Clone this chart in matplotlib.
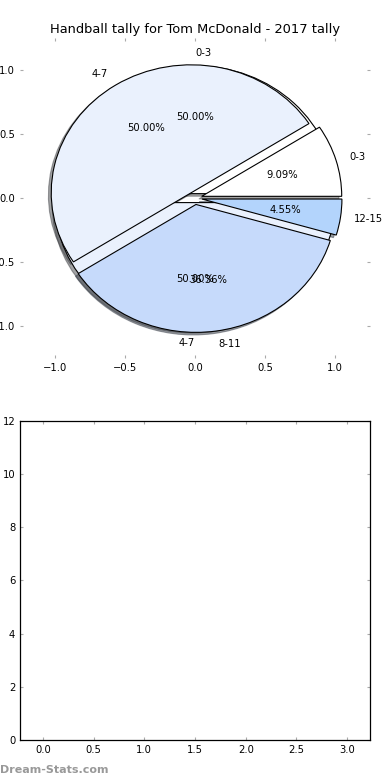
import matplotlib
matplotlib.use('Agg')
import matplotlib.pyplot as plt

# tally data
bins_2016 = ['0-3', '4-7']
tally_2016 = [1, 1]
colors_2016 = ['#ffffff', '#eaf1fd']

bins_2017 = ['0-3', '4-7', '8-11', '12-15']
tally_2017 = [2, 11, 8, 1]
colors_2017 = ['#ffffff', '#eaf1fd', '#c6dafb', '#b3d4fc']

bar_pos = [0, 1, 2, 3]
bar_heights = [0, 0, 0, 0]
bar_width = 0.45

ticks_pie = [-1.0, -0.5, 0.0, 0.5, 1.0]
ticks_bar_y = [0, 2, 4, 6, 8, 10, 12]
ticks_bar_x = [0.0, 0.5, 1.0, 1.5, 2.0, 2.5, 3.0]

DPI = 100
plt.rcParams['font.size'] = 7.2
plt.rcParams['xtick.direction'] = 'in'
plt.rcParams['ytick.direction'] = 'in'
plt.rcParams['xtick.top'] = True
plt.rcParams['ytick.right'] = True
plt.rcParams['xtick.color'] = '#aaaaaa'
plt.rcParams['ytick.color'] = '#aaaaaa'
plt.rcParams['xtick.labelcolor'] = 'black'
plt.rcParams['ytick.labelcolor'] = 'black'
plt.rcParams['xtick.major.size'] = 2.2
plt.rcParams['ytick.major.size'] = 2.2
plt.rcParams['xtick.major.pad'] = 3.5
plt.rcParams['ytick.major.pad'] = 3.5

fig = plt.figure(figsize=(3.9, 7.8), dpi=DPI)
ax = fig.add_axes([0.0513, 0.541, 0.8974, 0.410])
ax2 = fig.add_axes([0.0513, 0.0513, 0.8974, 0.409])

shadow = {'ox': -0.02 * 72 / DPI, 'oy': -0.02 * 72 / DPI}
wedge_style = {'edgecolor': 'black', 'linewidth': 0.8}

_, labels_2016, _ = ax.pie(tally_2016, labels=bins_2016, colors=colors_2016,
                           explode=[0.035] * len(tally_2016), autopct='%1.2f%%',
                           shadow=shadow, wedgeprops=wedge_style)
# top label sits right of centre, bottom one left of it
labels_2016[0].set_ha('left')
labels_2016[1].set_ha('right')

ax.pie(tally_2017, labels=bins_2017, colors=colors_2017,
       explode=[0.05] * len(tally_2017), autopct='%1.2f%%',
       shadow=shadow, wedgeprops=wedge_style)

ax.set_aspect('auto')
ax.set_xlim(-1.25, 1.25)
ax.set_ylim(-1.25, 1.25)
ax.set_xticks(ticks_pie)
ax.set_yticks(ticks_pie)
ax.set_frame_on(False)
ax.set_title('Handball tally for Tom McDonald - 2017 tally', fontsize=9.4, pad=3.5)

ax2.bar(bar_pos, bar_heights, width=bar_width)
ax2.set_xlim(bar_pos[0] - bar_width / 2, bar_pos[-1] + bar_width / 2)
ax2.set_ylim(0, 12)
ax2.set_xticks(ticks_bar_x)
ax2.set_yticks(ticks_bar_y)
for s in ax2.spines.values():
    s.set_linewidth(0.9)

fig.text(0.0, 0.0128, 'Dream-Stats.com', color='#999999', fontsize=8,
         fontweight='bold', ha='left', va='center')

fig.savefig('out.png', dpi=DPI)
